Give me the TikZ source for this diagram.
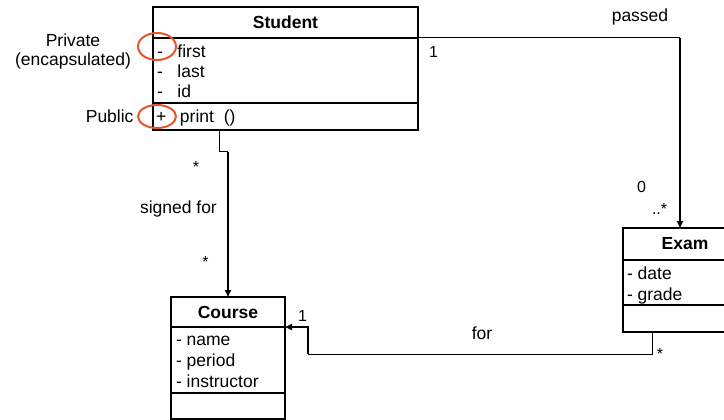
\documentclass[tikz,border=0pt]{standalone}
\usepackage{fontspec}
\setmainfont{Liberation Sans}
\usetikzlibrary{arrows.meta,shapes.geometric}
\definecolor{markred}{RGB}{232,84,44}

% attribute line: visibility sign in a fixed-width slot, then the name
\newcommand\umlattr[3]{\makebox[#1][l]{#2}#3}

\begin{document}
\begin{tikzpicture}[x=1pt,y=-1pt,
  every node/.style={font=\fontsize{17.5}{20}\selectfont, inner sep=0pt, outer sep=0pt},
  compart/.style 2 args={draw, line width=2pt, minimum width=#1, minimum height=#2, anchor=north west},
  classname/.style={font=\fontsize{17.5}{20}\selectfont\bfseries},
  member/.style={anchor=base west},
  mult/.style={font=\fontsize{16}{18}\selectfont},
  conn/.style={line width=1pt},
  connarrow/.style={line width=1.7pt, -{Triangle[length=7pt,width=6pt]}},
  markring/.style={ellipse, draw=markred, line width=2pt, minimum width=38pt}
]
\path[use as bounding box] (0,0) rectangle (724,420);
\clip (0,0) rectangle (724,420);

% ---- class Student ----
\node[compart={265pt}{31pt}, classname] (student) at (153,7) {Student};
\node[compart={265pt}{65pt}] (studentattr) at (student.south west) {};
\node[compart={265pt}{27pt}] (studentops) at (studentattr.south west) {};
\node[member] (sfirst) at (157,57.3) {\umlattr{20.5pt}{-}{first}};
\node[member] (slast)  at (157,77.3) {\umlattr{20.5pt}{-}{last}};
\node[member] (sid)    at (157,97.3) {\umlattr{20.5pt}{-}{id}};
\node[member] (sprint) at (156,123)  {\umlattr{24pt}{+}{print\ \ ()}};

% ---- class Exam ----
\node[compart={130pt}{32pt}, classname] (exam) at (623,228) {\hspace{-6pt}Exam};
\node[compart={130pt}{45pt}] (examattr) at (exam.south west) {};
\node[compart={130pt}{27pt}] (examops) at (examattr.south west) {};
\node[member] (edate)  at (627,279) {- date};
\node[member] (egrade) at (627,300) {- grade};

% ---- class Course ----
\node[compart={114pt}{30pt}, classname] (course) at (171,297) {Course};
\node[compart={114pt}{66pt}] (courseattr) at (course.south west) {};
\node[compart={114pt}{26pt}] (courseops) at (courseattr.south west) {};
\node[member] (cname)  at (176,345) {- name};
\node[member] (cperiod) at (176,366) {- period};
\node[member] (cinstr) at (176,387) {- instructor};

% ---- visibility annotations ----
\node[markring, minimum height=27pt] (privring) at (157,46.5) {};
\node[markring, minimum height=23pt] (pubring) at (157,116.5) {};
\node[anchor=north, align=center, font=\fontsize{17.5}{18.3}\selectfont] (privlabel) at (73,34.2) {Private\\(encapsulated)};
\node[anchor=base east] (publabel) at (133.5,123) {Public};

% ---- Student -> Course : signed for ----
\coordinate (sgA) at (219,152);
\coordinate (sgB) at (228,152);
\draw[conn] (219,0 |- studentops.south) -- (sgA) -- (sgB);
\draw[connarrow] (sgB) -- (sgB |- course.north);
\node[mult, anchor=base] (sgstar1) at (196,172) {*};
\node[anchor=base west] (sglabel) at (140,213) {signed for};
\node[mult, anchor=base] (sgstar2) at (205.5,267) {*};

% ---- Student -> Exam : passed ----
\coordinate (psA) at (680,0 |- student.south east);
\draw[conn] (student.south east) -- (psA);
\draw[connarrow] (psA) -- (psA |- exam.north);
\node[anchor=base] (pslabel) at (640,21.7) {passed};
\node[mult, anchor=base west] (psone) at (429,58) {1};
\node[mult, anchor=base west] (pszero) at (637,193) {0};
\node[mult, anchor=base west] (psmany) at (652,214.5) {..*};

% ---- Exam -> Course : for ----
\coordinate (frA) at (652,354);
\coordinate (frB) at (308,354);
\coordinate (frC) at (308,0 |- course.south east);
\draw[conn] (652,0 |- examops.south) -- (frA) -- (frB);
\draw[connarrow] (frB) -- (frC) -- (course.south east);
\node[mult, anchor=base west] (frone) at (298,321.7) {1};
\node[anchor=base] (frlabel) at (482,339) {for};
\node[mult, anchor=base] (frstar) at (660,359) {*};
\end{tikzpicture}
\end{document}
